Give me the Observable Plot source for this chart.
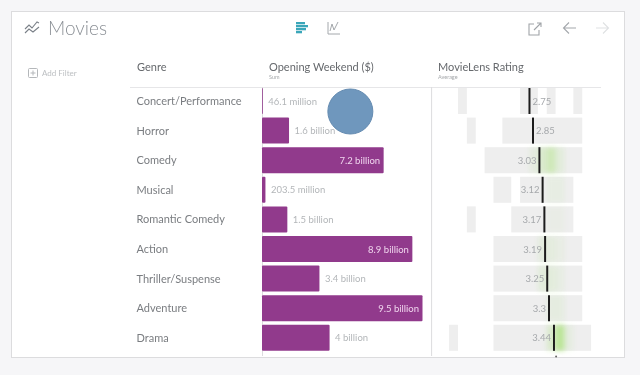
<!DOCTYPE html>
<html>
<head>
<meta charset="utf-8">
<script src="https://cdn.jsdelivr.net/npm/d3@7"></script>
<script src="https://cdn.jsdelivr.net/npm/@observablehq/plot@0.6"></script>
<style>
html,body{margin:0;padding:0;width:640px;height:375px;overflow:hidden;background:#f6f6f8;font-family:Lato,"Open Sans",sans-serif}
#page{position:absolute;left:0;top:0;width:640px;height:375px;filter:blur(.35px)}
#panel{position:absolute;left:11px;top:11px;width:612px;height:345px;background:#fff;border:1px solid #dcdcde}
.t{position:absolute;white-space:nowrap;line-height:1}
#charts svg{position:absolute;left:0;top:0;background:transparent}
.ic{position:absolute;fill:none}
.glow{filter:blur(2.4px)}
</style>
</head>
<body>
<div id="page">
<div id="panel"></div>
<div class="t" style="left:48px;top:18px;font-size:19px;color:#8b9096;font-weight:300">Movies</div>
<svg class="ic" style="left:24px;top:20px" width="18" height="16" viewBox="0 0 18 16" stroke="#7a8088" stroke-width="1.1"><path d="M1 9l4-4 3 3 5-6 2 1M1 13l4-4 4 3 6-5"/></svg>
<svg class="ic" style="left:295px;top:21px" width="16" height="15" viewBox="0 0 16 15" fill="#3aa6b9"><rect x="1" y="1" width="9" height="2.3" fill="#3aa6b9"/><rect x="1" y="4" width="12" height="2.3" fill="#3aa6b9"/><rect x="1" y="7" width="10" height="2.3" fill="#3aa6b9"/><rect x="1" y="10" width="6" height="2.3" fill="#3aa6b9"/></svg>
<svg class="ic" style="left:327px;top:21px" width="14" height="14" viewBox="0 0 14 14" stroke="#a4a8ac" stroke-width="1"><path d="M1 1v12h12M3 10l2-7 2 6 4-8"/></svg>
<svg class="ic" style="left:527px;top:21px" width="16" height="15" viewBox="0 0 16 15" stroke="#a0a4a8" stroke-width="1.1"><path d="M7 3H2v11h10V9M7 9l7-7M10 2h4v4"/></svg>
<svg class="ic" style="left:562px;top:21px" width="15" height="14" viewBox="0 0 15 14" stroke="#a4a8ac" stroke-width="1.1"><path d="M14 7H2M7 1.5L1.5 7 7 12.5"/></svg>
<svg class="ic" style="left:595px;top:21px" width="15" height="14" viewBox="0 0 15 14" stroke="#dfe1e3" stroke-width="1.1"><path d="M1 7h12M8 1.5L13.5 7 8 12.5"/></svg>
<svg class="ic" style="left:28px;top:68px" width="10" height="10" viewBox="0 0 10 10" stroke="#b4b7ba" stroke-width="1"><rect x=".5" y=".5" width="9" height="9" rx="1"/><path d="M5 2.5v5M2.5 5h5"/></svg>
<div class="t" style="left:42px;top:69px;font-size:8px;color:#bcbfc2">Add Filter</div>
<div class="t" style="left:137px;top:61px;font-size:11px;color:#66696d">Genre</div>
<div class="t" style="left:269px;top:61px;font-size:11px;color:#66696d">Opening Weekend ($)</div>
<div class="t" style="left:269px;top:75px;font-size:5.5px;color:#a5a8ab">Sum</div>
<div class="t" style="left:438px;top:61px;font-size:11px;color:#66696d">MovieLens Rating</div>
<div class="t" style="left:438px;top:75px;font-size:5.5px;color:#a5a8ab">Average</div>
<div id="charts"></div>
</div>
<script>
const genres = ["Concert/Performance","Horror","Comedy","Musical","Romantic Comedy","Action","Thriller/Suspense","Adventure","Drama"];
const opening = [0.0461,1.6,7.2,0.2035,1.5,8.9,3.4,9.5,4];
const openingLabels = ["46.1 million","1.6 billion","7.2 billion","203.5 million","1.5 billion","8.9 billion","3.4 billion","9.5 billion","4 billion"];
const ratings = [2.75,2.85,3.03,3.12,3.17,3.19,3.25,3.3,3.44];
const ratingLabels = ["2.75","2.85","3.03","3.12","3.17","3.19","3.25","3.3","3.44"];
// rating spans with any movies, per genre: [genre index, from, to]
const spans = [[0,0.75,1],[0,2.5,3],[0,3.25,3.5],[0,4,4.25],[1,1,1.25],[1,2,4.25],[2,1.5,4.25],[3,1.75,2.25],[3,2.5,4],[4,1,1.25],[4,2.25,4],[5,1.75,4.25],[6,1.75,4.25],[7,1.75,4.25],[8,0.5,0.75],[8,1.75,4.5]];
// green concentration: [genre index, from, to, strength]
const greens = [[2,2.75,3,0.1],[2,3,3.25,0.25],[2,3.25,3.5,0.4],[2,3.5,3.75,0.14],[3,3.25,3.75,0.08],[4,3.25,3.75,0.05],[5,3,3.5,0.12],[5,3.5,3.75,0.07],[6,3,3.5,0.14],[6,3.5,3.75,0.08],[7,3.25,3.75,0.1],[8,3.25,3.5,0.25],[8,3.5,3.75,0.65],[8,3.75,4,0.1]];
const cursor = [{value:5.2, genre:"Concert/Performance"}];
const axisEnds = [3.5];

const rows = genres.map((g,i)=>({genre:g,open:opening[i],label:openingLabels[i],rating:ratings[i],ratingLabel:ratingLabels[i]}));
const y = {domain:genres, range:[86.2,352.6], paddingInner:0.12, paddingOuter:0.06, round:false, axis:null};
const barFont = {fontFamily:"Lato,'Open Sans',sans-serif"};

const bars = Plot.plot({
  width:640,height:375,margin:0,style:{background:"transparent",overflow:"visible"},
  x:{domain:[0,9.5],range:[262,422.5],axis:null},
  y,
  marks:[
    Plot.ruleX([0],{stroke:"#dcdcde",strokeWidth:1,insetTop:87,insetBottom:19}),
    Plot.barX(rows,{x:"open",y:"genre",fill:"#913a8c",rx:1}),
    Plot.text(rows,{x:"open",y:"genre",text:"label",textAnchor:"start",dx:5,fontSize:9.5,fill:"#b3b6b9",filter:d=>d.open<5,...barFont}),
    Plot.text(rows,{x:"open",y:"genre",text:"label",textAnchor:"end",dx:-4,fontSize:9.5,fill:"#f0d5ee",filter:d=>d.open>=5,...barFont}),
    Plot.text(rows,{x:()=>0,y:"genre",text:"genre",textAnchor:"start",dx:-126,fontSize:11,fill:"#7a7d81",...barFont}),
    Plot.dot(cursor,{x:"value",y:"genre",dy:10,r:22.5,fill:"#6f97bd",stroke:"#648bb1",strokeWidth:1})
  ]
});

const xRating = {domain:[0.5,4.5],range:[449.1,591.1],axis:null};
const ratingPlot = Plot.plot({
  width:640,height:375,margin:0,style:{background:"transparent",overflow:"visible"},
  x:xRating,
  y,
  marks:[
    Plot.ruleX([0.5],{dx:-18,stroke:"#dcdcde",strokeWidth:1,insetTop:87,insetBottom:19}),
    Plot.rectX(spans,{x1:d=>d[1],x2:d=>d[2],y:d=>genres[d[0]],fill:"#eeeeee"}),
    Plot.rectX(greens,{x1:d=>d[1],x2:d=>d[2],y:d=>genres[d[0]],fill:"#9fe06a",fillOpacity:d=>d[3],className:"glow"}),
    Plot.tickX(rows,{x:"rating",y:"genre",stroke:"#1c1c1c",strokeWidth:2}),
    Plot.text(rows,{x:"rating",y:"genre",text:"ratingLabel",textAnchor:"start",dx:3,fontSize:9.5,fill:"#a6a9ac",filter:d=>d.rating<3,...barFont}),
    Plot.text(rows,{x:"rating",y:"genre",text:"ratingLabel",textAnchor:"end",dx:-3,fontSize:9.5,fill:"#a6a9ac",filter:d=>d.rating>=3,...barFont}),
    Plot.dot(axisEnds,{x:d=>d,frameAnchor:"bottom",dy:-19,r:1,fill:"#666"})
  ]
});

const charts = document.getElementById("charts");
const rule = document.createElement("div");
rule.style.cssText = "position:absolute;left:130px;top:87px;width:471px;height:1px;background:#e6e6e8";
charts.append(rule, ratingPlot, bars);
</script>
</body>
</html>
